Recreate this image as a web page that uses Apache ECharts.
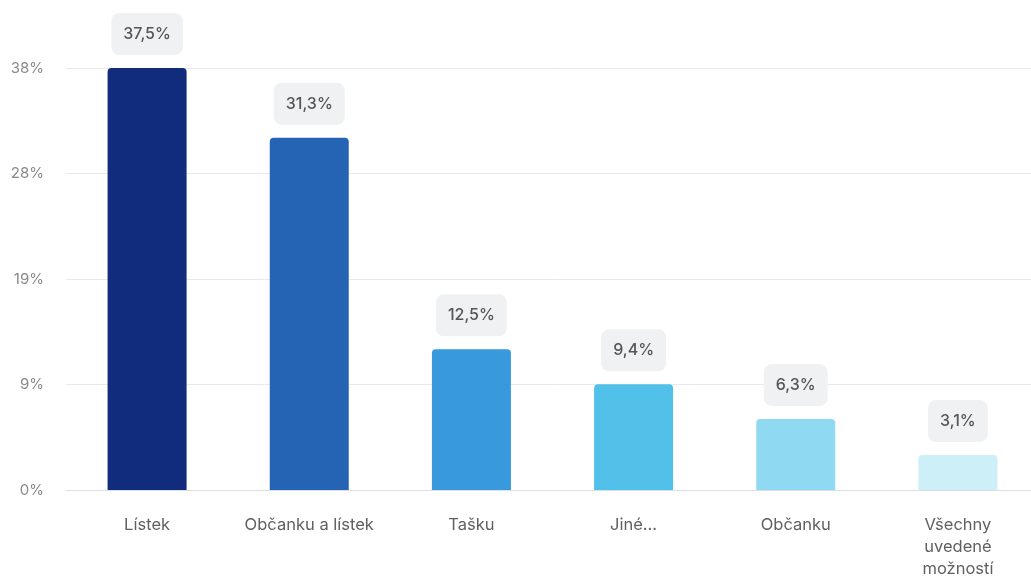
<!DOCTYPE html>
<html><head><meta charset="utf-8">
<script src="https://cdn.jsdelivr.net/npm/echarts@6/dist/echarts.min.js"></script>
<style>html,body{margin:0;padding:0;background:#fff;overflow:hidden}#c{width:1045px;height:581px}</style>
</head><body><div id="c"></div>
<script>
const categories = ['Lístek', 'Občanku a lístek', 'Tašku', 'Jiné...', 'Občanku', 'Všechny\nuvedené\nmožností'];
const values = [37.5, 31.3, 12.5, 9.4, 6.3, 3.1];
const colors = ['#112c7c', '#2563b4', '#3899dc', '#52c1ea', '#8fdaf2', '#cdf0f8'];
const yMax = 37.5;
const yInterval = 9.375;

const chart = echarts.init(document.getElementById('c'));
chart.setOption({
  animation: false,
  textStyle: { fontFamily: 'Inter' },
  grid: { left: 66, top: 68, bottom: 91, width: 973 },
  xAxis: {
    type: 'category',
    data: categories,
    axisLine: { lineStyle: { color: '#dcdee6' } },
    axisTick: { show: false },
    axisLabel: { color: '#606060', fontSize: 16.5, margin: 24, lineHeight: 22, fontFamily: 'Inter',
      interval: 0, hideOverlap: false }
  },
  yAxis: {
    type: 'value',
    min: 0, max: yMax, interval: yInterval,
    axisLine: { show: false },
    axisTick: { show: false },
    splitLine: { lineStyle: { color: '#e8e9ec' } },
    axisLabel: { color: '#888', fontSize: 15, margin: 22, fontFamily: 'Inter',
      formatter: v => Math.round(v) + '%' }
  },
  series: [{
    type: 'bar',
    barWidth: 79,
    data: values.map((v, i) => ({ value: v, itemStyle: { color: colors[i], borderRadius: [4, 4, 0, 0] } })),
    label: {
      show: true, position: 'top', distance: 13,
      formatter: p => String(p.value).replace('.', ',') + '%',
      color: '#555', fontSize: 16, fontWeight: 500, fontFamily: 'Inter',
      backgroundColor: '#f0f1f3', borderRadius: 8, padding: [13, 12]
    }
  }]
});
</script></body></html>
